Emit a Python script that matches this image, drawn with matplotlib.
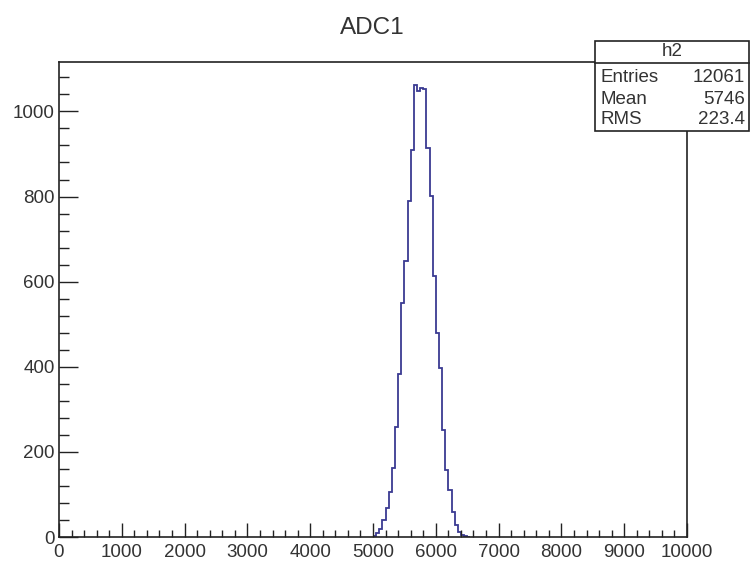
import matplotlib
matplotlib.use('Agg')
import matplotlib.pyplot as plt
import numpy as np
from matplotlib.patches import Rectangle
from matplotlib.lines import Line2D

plt.rcParams['font.family'] = ['Liberation Sans', 'DejaVu Sans']

# histogram h2: 200 bins of 50 over 0..10000, only non-empty region listed
bin_width = 50
first_bin = 5000
counts = [3, 10, 18, 40, 68, 105, 162, 258, 384, 550, 648, 789, 910,
          1063, 1047, 1054, 1052,
          913, 801, 614, 480, 396, 251, 157, 110, 59, 28, 12, 4, 3, 1]
x_ticks = [0, 1000, 2000, 3000, 4000, 5000, 6000, 7000, 8000, 9000, 10000]
y_ticks = [0, 200, 400, 600, 800, 1000]
stats_labels = ['Entries', 'Mean', 'RMS']
stats_values = ['12061', '5746', '223.4']

edges = first_bin + bin_width * np.arange(len(counts) + 1)

fig = plt.figure(figsize=(7.5, 5.62), dpi=100)
ax = fig.add_axes([59 / 750, 1 - 537 / 562, 628 / 750, 475 / 562])

ax.stairs(counts, edges, baseline=None, color='#3a3a92', linewidth=1.3)

ax.set_xlim(0, 10000)
ax.set_ylim(0, 1.05 * max(counts))
ax.set_xticks(x_ticks)
ax.set_yticks(y_ticks)
ax.set_xticks(np.arange(0, 10001, 200), minor=True)
ax.set_yticks(np.arange(0, 1101, 40), minor=True)

txt = '#333333'
ax.tick_params(axis='x', which='major', direction='in', length=10, width=1,
               labelsize=13.5, pad=5, colors='#222222', labelcolor=txt)
ax.tick_params(axis='x', which='minor', direction='in', length=5, width=1, colors='#222222')
ax.tick_params(axis='y', which='major', direction='in', length=14, width=1,
               labelsize=13.5, pad=3, colors='#222222', labelcolor=txt)
ax.tick_params(axis='y', which='minor', direction='in', length=7, width=1, colors='#222222')
for s in ax.spines.values():
    s.set_linewidth(1.2)
    s.set_color('#222222')

fig.text(0.497, 1 - 28 / 562, 'ADC1', ha='center', va='center', fontsize=17.5, color=txt)

# stats box
bx0, bx1 = 595 / 750, 749 / 750
by0, by1 = 1 - 131 / 562, 1 - 41 / 562
fig.patches.append(Rectangle((bx0, by0), bx1 - bx0, by1 - by0, transform=fig.transFigure,
                             facecolor='white', edgecolor='#222222', linewidth=1.2, zorder=10))
fig.lines.append(Line2D([bx0, bx1], [1 - 63 / 562] * 2, transform=fig.transFigure,
                        color='#222222', linewidth=1.2, zorder=11))
fig.text((bx0 + bx1) / 2, 1 - 52 / 562, 'h2', ha='center', va='center',
         fontsize=13.5, color=txt, zorder=12)
for i, (lab, val) in enumerate(zip(stats_labels, stats_values)):
    y = 1 - (78 + 21 * i) / 562
    fig.text(600 / 750, y, lab, ha='left', va='center', fontsize=13.5, color=txt, zorder=12)
    fig.text(745 / 750, y, val, ha='right', va='center', fontsize=13.5, color=txt, zorder=12)

fig.savefig('out.png', dpi=100, facecolor='white')
